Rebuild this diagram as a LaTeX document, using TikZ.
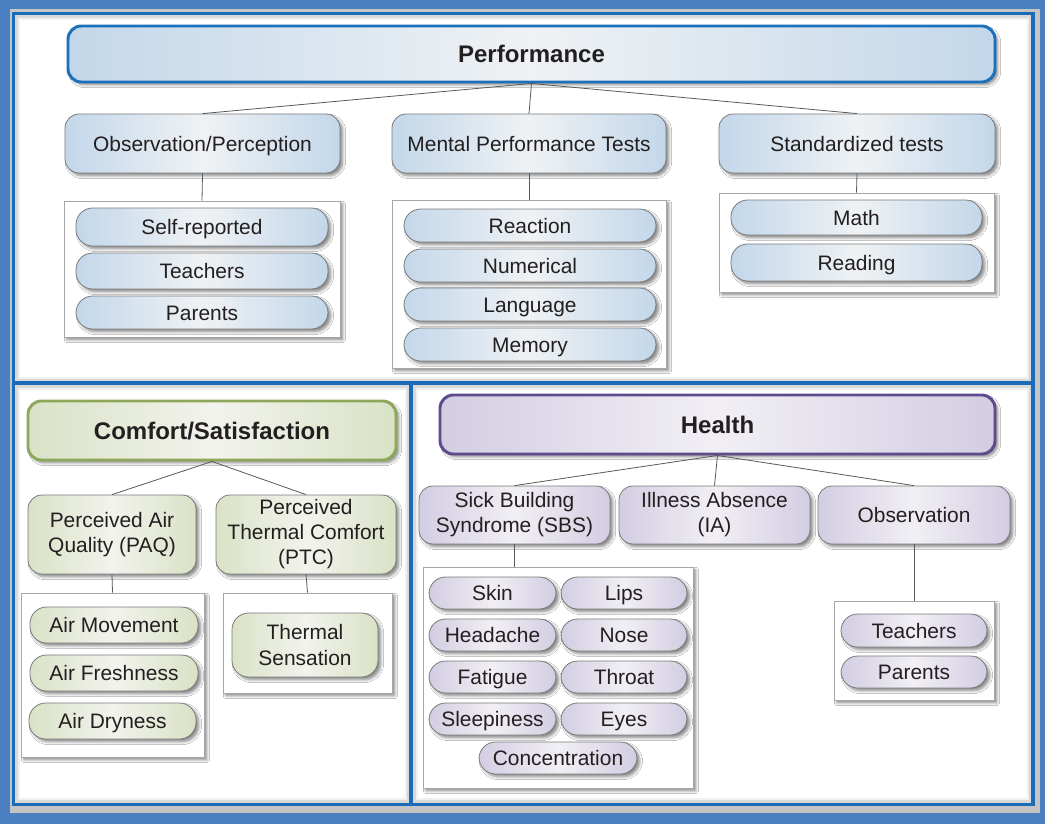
\documentclass[tikz,border=0pt]{standalone}
\usepackage{fontspec}
\setmainfont{Liberation Sans}
\usetikzlibrary{shadows,shadows.blur}
\definecolor{outerblue}{HTML}{4A80C2}
\definecolor{lineblue}{HTML}{1A6CB8}
\definecolor{frgray}{HTML}{C4C4C4}
\definecolor{bl}{HTML}{C3D7EA}
\definecolor{blm}{HTML}{EFF2F4}
\definecolor{gr}{HTML}{D9E2C6}
\definecolor{grm}{HTML}{F2F3ED}
\definecolor{grB}{HTML}{8DA85A}
\definecolor{pu}{HTML}{D3CDE2}
\definecolor{pum}{HTML}{F1EFF4}
\definecolor{puB}{HTML}{5E4A8C}
\definecolor{perfB}{HTML}{1B70BB}
\definecolor{txt}{HTML}{231F20}
\definecolor{edge}{HTML}{7A7A7A}
\newcommand\bx[7]{\node[#6, minimum width={(#4-#2)*0.75pt}, minimum height={(#5-#3)*0.75pt}] (#1) at ({(#2+#4)/2},{(#3+#5)/2}) {#7};}
\newcommand\panelshade[4]{%
  \draw[gray!30, line width=2.25pt] ({#1+3},{#2+3}) rectangle ({#3-3},{#4-3});
  \draw[gray!12, line width=1.5pt] ({#1+5.5},{#2+5.5}) rectangle ({#3-5.5},{#4-5.5});}
\begin{document}
\begin{tikzpicture}[x=0.75pt,y=-0.75pt,
  every node/.style={inner sep=0pt, align=center, text=txt, font=\fontsize{15.7}{18.8}\selectfont},
  sl/.style={text height=11.3pt, text depth=0pt},
  slb/.style={text height=13pt, text depth=0pt},
  shad/.style={blur shadow={shadow xshift=2.2pt, shadow yshift=-2.2pt, shadow blur radius=2pt, shadow blur steps=5, shadow opacity=45}},
  titlebox/.style={shad, slb, rounded corners=10pt, line width=2.2pt, font=\fontsize{18}{21}\selectfont\bfseries},
  subbox/.style={shad, rounded corners=10.5pt, draw=edge, line width=0.6pt},
  pillbase/.style={shad, rounded corners=12.5pt, draw=edge, line width=0.6pt},
  pillbox/.style={pillbase, sl},
  listbox/.style={shad, draw=gray!70, line width=0.6pt, fill=white},
  blueT/.style={draw=perfB, left color=bl, right color=bl, middle color=blm},
  blueS/.style={left color=bl, right color=bl, middle color=blm},
  greenT/.style={draw=grB, left color=gr, right color=gr, middle color=grm},
  greenS/.style={left color=gr, right color=gr, middle color=grm},
  purpT/.style={draw=puB, left color=pu, right color=pu, middle color=pum},
  purpS/.style={left color=pu, right color=pu, middle color=pum},
  conn/.style={draw=black!65, line width=0.6pt}
]
\useasboundingbox (0,0) rectangle (1045,824);
% frame
\fill[outerblue] (0,0) rectangle (1045,824);
\fill[frgray] (10,9) rectangle (1040,813);
\fill[white] (13.5,13.5) rectangle (1033,804.5);
\panelshade{13.5}{13.5}{1033}{383}
\panelshade{13.5}{383}{411}{804.5}
\panelshade{411}{383}{1033}{804.5}
\draw[lineblue, line width=2.4pt] (13.5,13.5) rectangle (1033,804.5);
\draw[lineblue, line width=2.4pt] (13.5,383) -- (1033,383);
\draw[lineblue, line width=2.4pt] (411,383) -- (411,804.5);

% ---------- Performance ----------
\bx{perf}{68}{26}{995}{82}{titlebox, blueT}{Performance}
\bx{obs}{65}{114}{340}{173}{subbox, sl, blueS}{Observation/Perception}
\bx{mpt}{392}{114}{666}{173}{subbox, sl, blueS}{Mental Performance Tests}
\bx{std}{719}{114}{995}{173}{subbox, sl, blueS}{Standardized tests}

\bx{obsL}{64}{201}{340}{337}{listbox}{}
\bx{selfrep}{76}{208}{328}{246}{pillbox, blueS}{Self-reported}
\bx{teach}{76}{253}{328}{289}{pillbox, blueS}{Teachers}
\bx{parent}{76}{296}{328}{329}{pillbox, blueS}{Parents}

\bx{mptL}{392}{200}{666}{368}{listbox}{}
\bx{react}{404}{209}{656}{242}{pillbox, blueS}{Reaction}
\bx{numer}{404}{249}{656}{282}{pillbox, blueS}{Numerical}
\bx{lang}{404}{288}{656}{321}{pillbox, blueS}{Language}
\bx{mem}{404}{328}{656}{361}{pillbox, blueS}{Memory}

\bx{stdL}{719}{193}{994}{292}{listbox}{}
\bx{math}{731}{200}{982}{235}{pillbox, blueS}{Math}
\bx{read}{731}{244}{982}{281}{pillbox, blueS}{Reading}

\draw[conn] (perf.south) -- (obs.north);
\draw[conn] (perf.south) -- (mpt.north);
\draw[conn] (perf.south) -- (std.north);
\draw[conn] (obs.south) -- (obsL.north);
\draw[conn] (mpt.south) -- (mptL.north);
\draw[conn] (std.south) -- (stdL.north);

% ---------- Comfort ----------
\bx{comf}{28}{401}{396}{460}{titlebox, greenT}{Comfort/Satisfaction}
\bx{paq}{28}{495}{196}{574}{subbox, greenS}{Perceived Air\\Quality (PAQ)}
\bx{ptc}{216}{495}{396}{574}{subbox, greenS}{Perceived\\Thermal Comfort\\(PTC)}

\bx{paqL}{21}{593}{204}{757}{listbox}{}
\bx{airmov}{30}{607}{198}{643}{pillbox, greenS}{Air Movement}
\bx{airfr}{30}{655}{198}{691}{pillbox, greenS}{Air Freshness}
\bx{airdr}{29}{703}{196}{739}{pillbox, greenS}{Air Dryness}

\bx{ptcL}{223}{593}{392}{693}{listbox}{}
\bx{thermsens}{232}{613}{378}{677}{pillbase, greenS}{Thermal\\Sensation}

\draw[conn] (comf.south) -- (paq.north);
\draw[conn] (comf.south) -- (ptc.north);
\draw[conn] (paq.south) -- (paqL.north);
\draw[conn] (ptc.south) -- (ptcL.north);

% ---------- Health ----------
\bx{health}{440}{395}{995}{454}{titlebox, purpT}{Health}
\bx{sbs}{419}{486}{610}{544}{subbox, purpS}{Sick Building\\Syndrome (SBS)}
\bx{ia}{619}{486}{810}{544}{subbox, purpS}{Illness Absence\\(IA)}
\bx{obs2}{818}{486}{1010}{544}{subbox, sl, purpS}{Observation}

\bx{sbsL}{423}{567}{693}{788}{listbox}{}
\bx{skin}{429}{577}{556}{609}{pillbox, purpS}{Skin}
\bx{lips}{561}{577}{687}{609}{pillbox, purpS}{Lips}
\bx{head}{429}{619}{556}{651}{pillbox, purpS}{Headache}
\bx{nose}{561}{619}{687}{651}{pillbox, purpS}{Nose}
\bx{fatig}{429}{661}{556}{693}{pillbox, purpS}{Fatigue}
\bx{throat}{561}{661}{687}{693}{pillbox, purpS}{Throat}
\bx{sleep}{429}{703}{556}{735}{pillbox, purpS}{Sleepiness}
\bx{eyes}{561}{703}{687}{735}{pillbox, purpS}{Eyes}
\bx{conc}{479}{742}{637}{774}{pillbox, purpS}{Concentration}

\bx{obs2L}{834}{601}{994}{700}{listbox}{}
\bx{teach2}{841}{614}{987}{647}{pillbox, purpS}{Teachers}
\bx{parent2}{841}{656}{987}{688}{pillbox, purpS}{Parents}

\draw[conn] (health.south) -- (sbs.north);
\draw[conn] (health.south) -- (ia.north);
\draw[conn] (health.south) -- (obs2.north);
\draw[conn] (sbs.south) -- (sbs.south |- sbsL.north);
\draw[conn] (obs2.south) -- (obs2L.north);
\end{tikzpicture}
\end{document}
